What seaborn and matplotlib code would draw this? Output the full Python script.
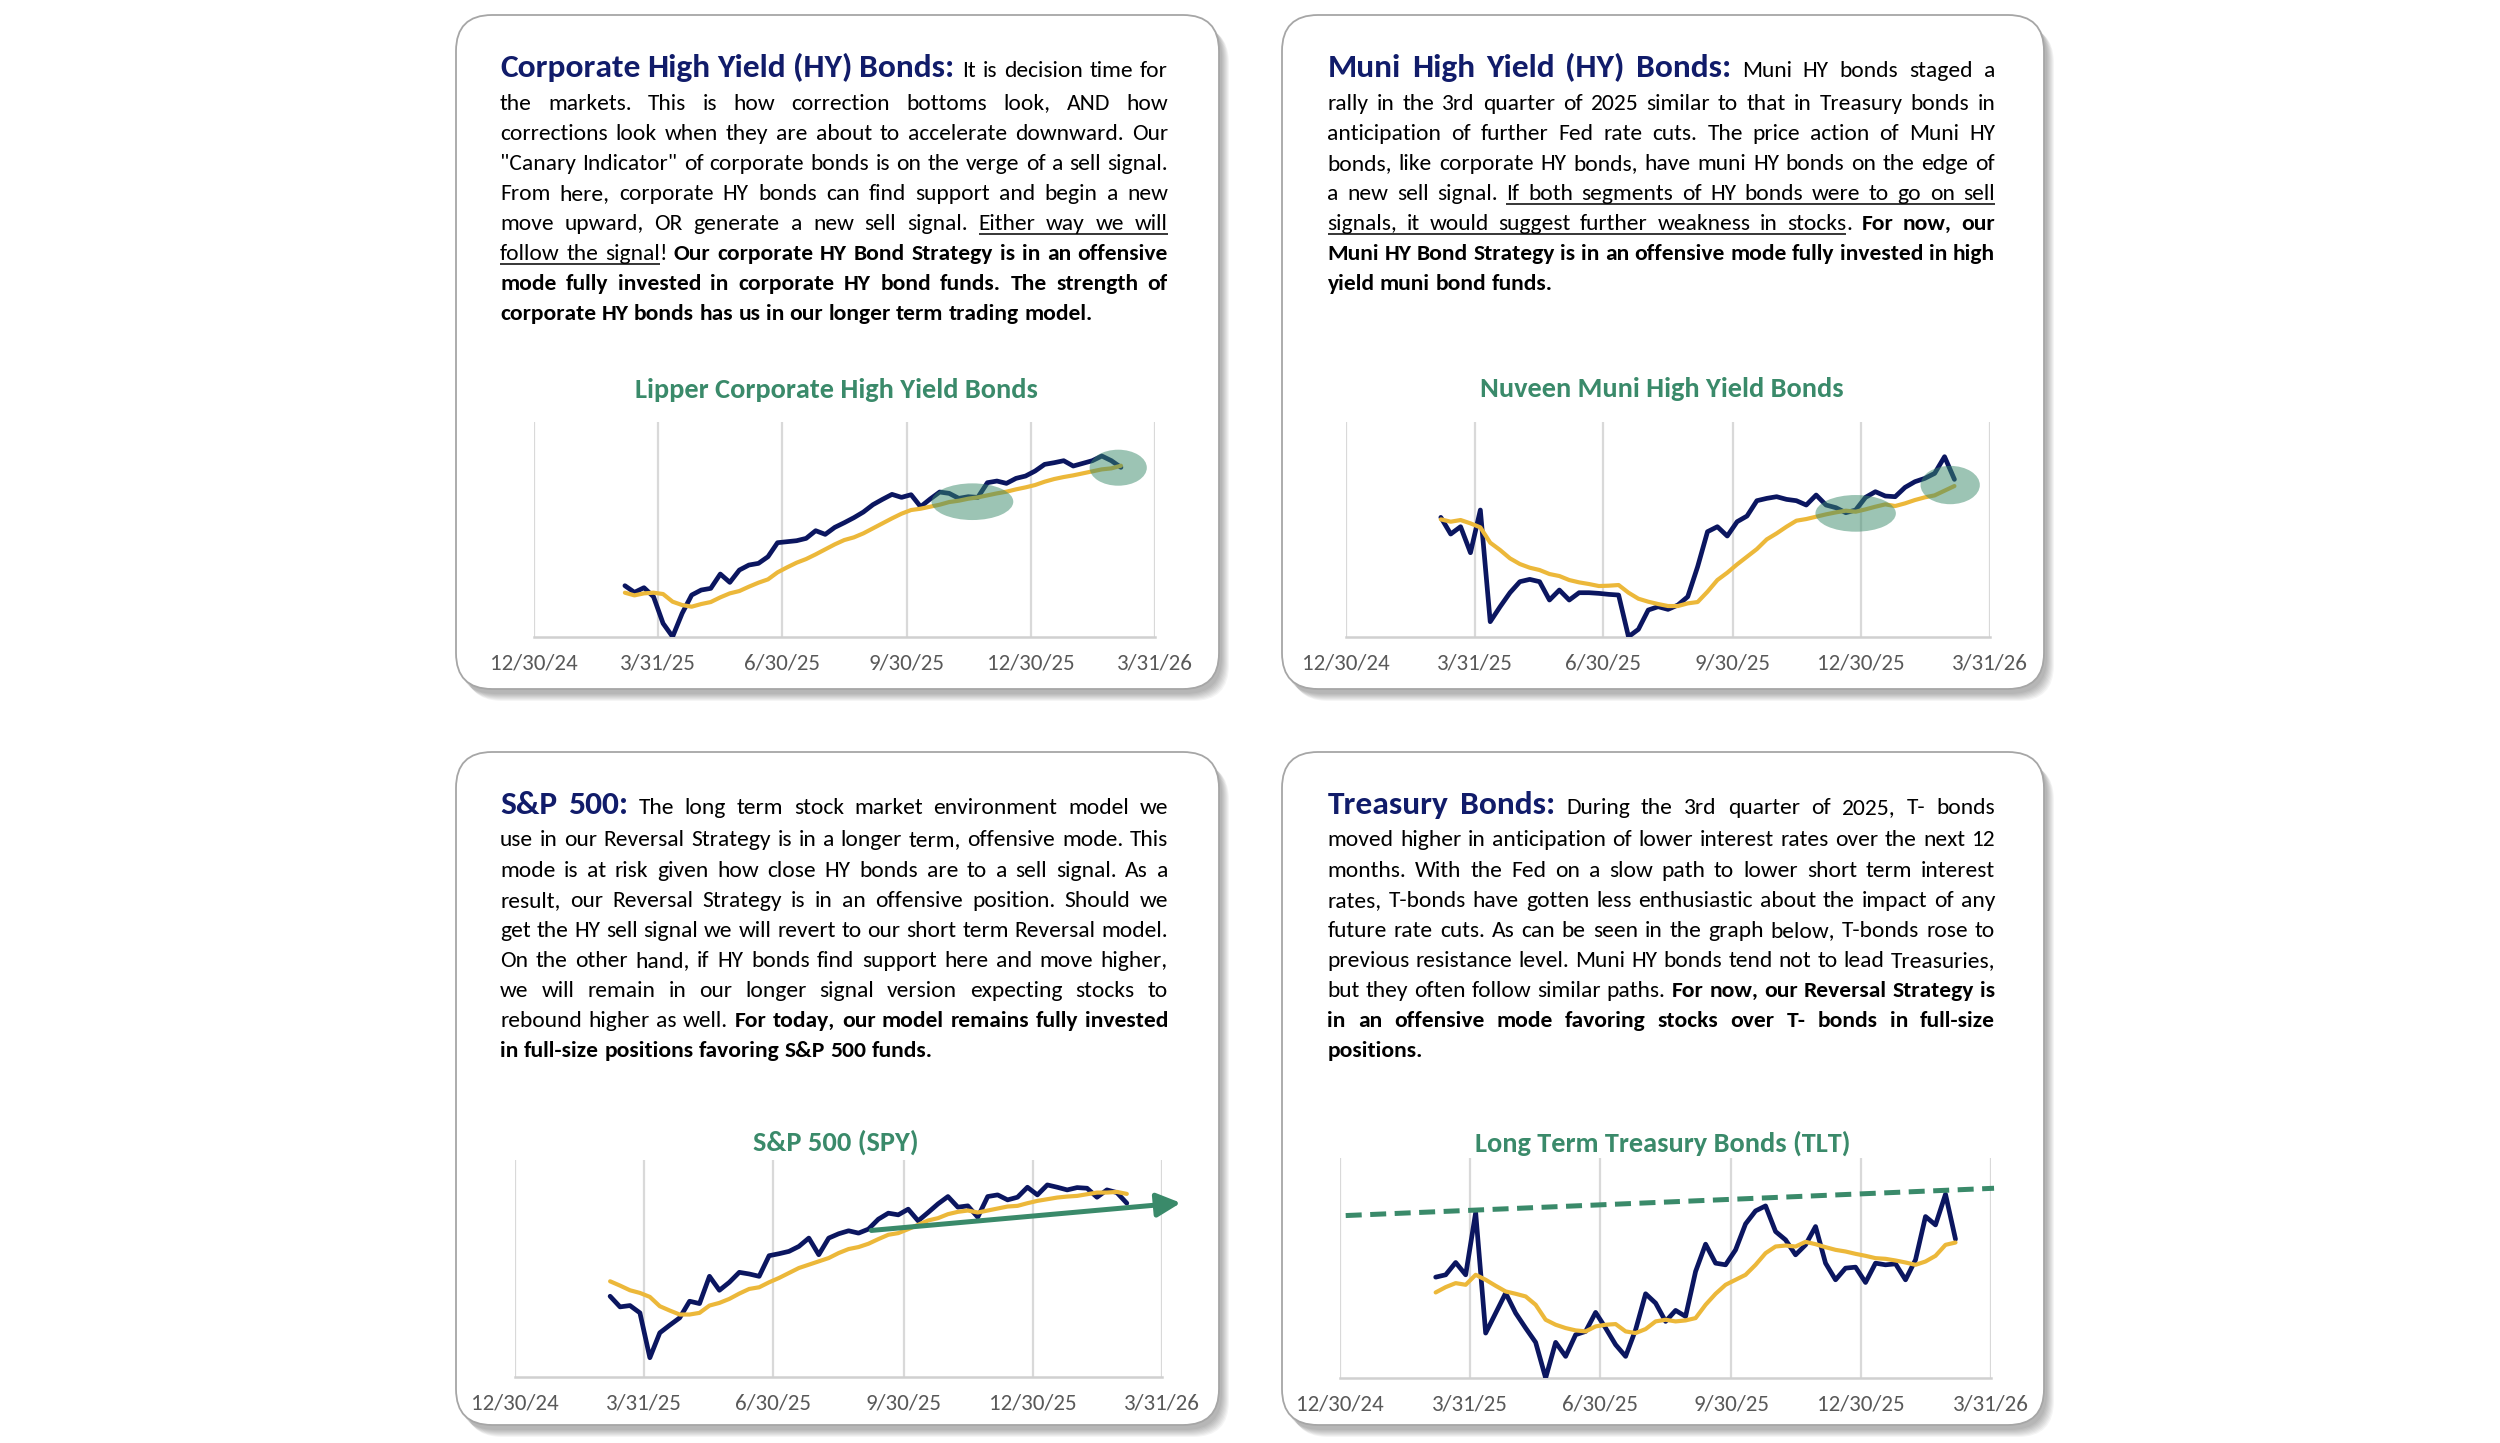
import numpy as np
import pandas as pd
import seaborn as sns
import matplotlib
matplotlib.use("Agg")
import matplotlib.pyplot as plt
import matplotlib.dates as mdates
from matplotlib import font_manager as fm
from matplotlib.patches import FancyBboxPatch, Ellipse

# ---------------- data: weekly closes, relative units (0 = bottom of plot) ----------------
week_dates = pd.date_range("2025-03-07", periods=53, freq="7D")

corp_hy = [153, 133, 147, 120, 40, 0, 70, 125, 140, 145, 188, 163, 200, 215, 220, 240, 282, 285,
           288, 295, 318, 307, 328, 342, 357, 374, 396, 412, 427, 418, 426, 390, 413, 434, 430, 415,
           420, 418, 462, 467, 460, 475, 482, 497, 517, 522, 528, 512, 520, 528, 542, 528, 508]
corp_hy_avg = [132, 124, 130, 132, 128, 105, 95, 90, 98, 104, 118, 130, 137, 150, 162, 172, 193, 208,
               222, 233, 247, 262, 277, 290, 298, 310, 325, 340, 355, 369, 380, 384, 390, 396, 404, 408,
               414, 418, 424, 430, 435, 442, 448, 455, 465, 473, 479, 484, 490, 496, 502, 505, 513]

muni_hy = [358, 308, 330, 252, 380, 45, 90, 132, 165, 172, 165, 110, 140, 110, 132, 132, 130, 127,
           125, 0, 22, 80, 90, 82, 95, 120, 210, 315, 330, 302, 345, 362, 408, 415, 420, 412,
           408, 395, 425, 395, 387, 372, 380, 418, 435, 422, 420, 448, 465, 475, 490, 540, 472]
muni_hy_avg = [352, 345, 350, 340, 328, 282, 260, 235, 218, 207, 200, 188, 182, 170, 163, 158, 152, 153,
               155, 132, 114, 105, 98, 92, 92, 100, 104, 135, 170, 192, 217, 240, 263, 292, 310, 330,
               348, 353, 360, 367, 373, 378, 375, 382, 390, 397, 392, 400, 410, 418, 424, 438, 452]

spy = [243, 211, 215, 193, 58, 133, 156, 178, 228, 221, 303, 261, 285, 315, 310, 303, 365, 371,
       378, 393, 418, 368, 418, 431, 440, 433, 445, 475, 493, 488, 505, 470, 495, 521, 543, 511,
       515, 481, 543, 548, 533, 541, 571, 548, 578, 571, 563, 570, 568, 541, 563, 555, 523]
spy_avg = [288, 275, 261, 253, 241, 213, 200, 188, 188, 193, 215, 223, 235, 251, 265, 270, 285, 298,
           313, 328, 338, 348, 358, 373, 385, 391, 401, 415, 428, 433, 445, 458, 471, 478, 490, 497,
           501, 495, 501, 507, 513, 515, 523, 530, 535, 540, 543, 545, 550, 555, 555, 557, 551]

tlt = [303, 310, 347, 310, 497, 135, 195, 255, 195, 150, 107, 0, 107, 65, 130, 140, 197, 150,
       100, 65, 145, 253, 225, 170, 203, 185, 320, 402, 345, 340, 385, 463, 502, 517, 440, 415,
       370, 400, 455, 345, 295, 330, 333, 287, 345, 340, 343, 295, 355, 485, 460, 552, 417]
tlt_avg = [257, 273, 285, 280, 310, 295, 277, 260, 253, 245, 220, 175, 160, 150, 143, 140, 155, 160,
           162, 140, 135, 147, 170, 175, 170, 173, 180, 220, 253, 280, 295, 310, 340, 375, 395, 398,
           395, 409, 402, 393, 385, 380, 373, 367, 360, 358, 353, 347, 340, 350, 367, 400, 407]

tick_dates = pd.to_datetime(["2024-12-30", "2025-03-31", "2025-06-30",
                             "2025-09-30", "2025-12-30", "2026-03-31"])
tick_labels = ["12/30/24", "3/31/25", "6/30/25", "9/30/25", "12/30/25", "3/31/26"]

chart_titles = ["Lipper Corporate High Yield Bonds", "Nuveen Muni High Yield Bonds",
                "S&P 500 (SPY)", "Long Term Treasury Bonds (TLT)"]

# text: runs of (style, text); h = heading, n = normal, b = bold, u = underlined
corp_text = [
    [("h", "Corporate High Yield (HY) Bonds:"), ("n", " It is decision time for")],
    [("n", "the markets. This is how correction bottoms look, AND how")],
    [("n", "corrections look when they are about to accelerate downward. Our")],
    [("n", '"Canary Indicator" of corporate bonds is on the verge of a sell signal.')],
    [("n", "From here, corporate HY bonds can find support and begin a new")],
    [("n", "move upward, OR generate a new sell signal. "), ("u", "Either way we will")],
    [("u", "follow the signal"), ("n", "! "), ("b", "Our corporate HY Bond Strategy is in an offensive")],
    [("b", "mode fully invested in corporate HY bond funds. The strength of")],
    [("b", "corporate HY bonds has us in our longer term trading model.")],
]
muni_text = [
    [("h", "Muni High Yield (HY) Bonds:"), ("n", " Muni HY bonds staged a")],
    [("n", "rally in the 3rd quarter of 2025 similar to that in Treasury bonds in")],
    [("n", "anticipation of further Fed rate cuts. The price action of Muni HY")],
    [("n", "bonds, like corporate HY bonds, have muni HY bonds on the edge of")],
    [("n", "a new sell signal. "), ("u", "If both segments of HY bonds were to go on sell")],
    [("u", "signals, it would suggest further weakness in stocks"), ("n", ". "), ("b", "For now, our")],
    [("b", "Muni HY Bond Strategy is in an offensive mode fully invested in high")],
    [("b", "yield muni bond funds.")],
]
spx_text = [
    [("h", "S&P 500:"), ("n", " The long term stock market environment model we")],
    [("n", "use in our Reversal Strategy is in a longer term, offensive mode. This")],
    [("n", "mode is at risk given how close HY bonds are to a sell signal. As a")],
    [("n", "result, our Reversal Strategy is in an offensive position. Should we")],
    [("n", "get the HY sell signal we will revert to our short term Reversal model.")],
    [("n", "On the other hand, if HY bonds find support here and move higher,")],
    [("n", "we will remain in our longer signal version expecting stocks to")],
    [("n", "rebound higher as well. "), ("b", "For today, our model remains fully invested")],
    [("b", "in full-size positions favoring S&P 500 funds.")],
]
tsy_text = [
    [("h", "Treasury Bonds:"), ("n", " During the 3rd quarter of 2025, T- bonds")],
    [("n", "moved higher in anticipation of lower interest rates over the next 12")],
    [("n", "months. With the Fed on a slow path to lower short term interest")],
    [("n", "rates, T-bonds have gotten less enthusiastic about the impact of any")],
    [("n", "future rate cuts. As can be seen in the graph below, T-bonds rose to")],
    [("n", "previous resistance level. Muni HY bonds tend not to lead Treasuries,")],
    [("n", "but they often follow similar paths. "), ("b", "For now, our Reversal Strategy is")],
    [("b", "in an offensive mode favoring stocks over T- bonds in full-size")],
    [("b", "positions.")],
]

NAVY = "#0B1660"
GOLD = "#ECB83A"
GREEN = "#3A8A6A"
HEAD = "#111C6A"
GRID = "#D9D9D9"

sns.set_style("white")
installed = {f.name for f in fm.fontManager.ttflist}
FAM = next(f for f in ["Carlito", "Liberation Sans Narrow", "Lato", "DejaVu Sans"] if f in installed)
plt.rcParams["font.family"] = [FAM, "DejaVu Sans"]

fig = plt.figure(figsize=(25, 14.43), dpi=100)
bg = fig.add_axes([0, 0, 1, 1])
bg.set_xlim(0, 2500)
bg.set_ylim(1443, 0)
bg.axis("off")
renderer = fig.canvas.get_renderer()

_cache = {}
def width(s, size, weight="normal"):
    key = (s, round(size, 3), weight)
    if key not in _cache:
        t = bg.text(0, 0, s, fontsize=size, fontweight=weight)
        _cache[key] = t.get_window_extent(renderer).width
        t.remove()
    return _cache[key]

# font sizes fitted to the widths seen in the picture
head_size = 24 * 457 / width("Corporate High Yield (HY) Bonds:", 24, "bold")
title_size = 20 * 403 / width("Lipper Corporate High Yield Bonds", 20, "bold")
tick_size = 16 * 88 / width("12/30/24", 16)
sizes = {"body": 18.0}

def style_of(st):
    if st == "h":
        return head_size, "bold", HEAD
    if st == "b":
        return sizes["body"], "bold", "black"
    return sizes["body"], "normal", "black"

def split_words(runs):
    words, cur = [], []
    for st, text in runs:
        for k, part in enumerate(text.split(" ")):
            if k > 0 and cur:
                words.append(cur)
                cur = []
            if part:
                cur.append((part, st))
    if cur:
        words.append(cur)
    return words

def space_w():
    s = sizes["body"]
    return width("a a", s) - width("aa", s)

def natural(runs):
    words = split_words(runs)
    tot = sum(width(p, *style_of(st)[:2]) for w in words for p, st in w)
    return tot + (len(words) - 1) * space_w()

panels = [
    dict(text=corp_text, x0=500, x1=1168, dy=0),
    dict(text=muni_text, x0=1327.5, x1=1995, dy=0),
    dict(text=spx_text, x0=500, x1=1168, dy=737),
    dict(text=tsy_text, x0=1327.5, x1=1995, dy=737),
]

# shrink body text until every justified line fits
for _ in range(4):
    worst = max(natural(r) / (p["x1"] - p["x0"]) for p in panels for r in p["text"][:-1])
    sizes["body"] = min(18.0, sizes["body"] / worst * 0.998)

def draw_line(runs, x0, x1, y, justify):
    words = split_words(runs)
    widths = [[width(p, *style_of(st)[:2]) for p, st in w] for w in words]
    total = sum(sum(ws) for ws in widths)
    gap = (x1 - x0 - total) / (len(words) - 1) if justify and len(words) > 1 else space_w()
    x = x0
    prev_u = None
    for w, ws in zip(words, widths):
        if prev_u is not None and w[0][1] == "u":
            bg.plot([prev_u, x], [y + 4, y + 4], color="black", lw=1.1, solid_capstyle="butt")
        for (p, st), pw in zip(w, ws):
            size, weight, color = style_of(st)
            bg.text(x, y, p, fontsize=size, fontweight=weight, color=color, ha="left", va="baseline")
            if st == "u":
                bg.plot([x, x + pw], [y + 4, y + 4], color="black", lw=1.1, solid_capstyle="butt")
            x += pw
        prev_u = x if w[-1][1] == "u" else None
        x += gap

# rounded boxes with soft shadow
boxes = [(456, 15, 763, 674), (1282, 15, 762, 674), (456, 752, 763, 673), (1282, 752, 762, 673)]
for bx, by, bw, bh in boxes:
    for k in range(8):
        bg.add_patch(FancyBboxPatch((bx + 3 + k, by + 5 + k), bw, bh,
                                    boxstyle="round,pad=0,rounding_size=36",
                                    facecolor="#000000", edgecolor="none", alpha=0.04, zorder=1))
    bg.add_patch(FancyBboxPatch((bx, by), bw, bh, boxstyle="round,pad=0,rounding_size=36",
                                facecolor="white", edgecolor="#A6A6A6", lw=1.3, zorder=2))

for p in panels:
    n = len(p["text"])
    for i, runs in enumerate(p["text"]):
        y = p["dy"] + (77 if i == 0 else 109.5 + 30.1 * (i - 1))
        draw_line(runs, p["x0"], p["x1"], y, i < n - 1)

# chart titles
title_pos = [(836, 390), (1662, 389), (836, 1142), (1663, 1143)]
for (tx, ty), t in zip(title_pos, chart_titles):
    bg.text(tx, ty, t, fontsize=title_size, fontweight="bold", color=GREEN, ha="center", va="center")

# ---------------- charts ----------------
def make_axes(left, top, right, bottom):
    return fig.add_axes([left / 2500, 1 - bottom / 1443, (right - left) / 2500, (bottom - top) / 1443])

chart_specs = [
    dict(rect=(533.6, 421.7, 1155, 636.7), price=corp_hy, avg=corp_hy_avg, ytop=645),
    dict(rect=(1346.3, 421.7, 1989.7, 636.7), price=muni_hy, avg=muni_hy_avg, ytop=645),
    dict(rect=(515, 1160, 1162.3, 1377), price=spy, avg=spy_avg, ytop=653),
    dict(rect=(1340, 1158.3, 1991.2, 1378), price=tlt, avg=tlt_avg, ytop=660),
]

axes = []
for spec in chart_specs:
    ax = make_axes(*spec["rect"])
    df = pd.DataFrame({"date": week_dates, "price": spec["price"], "avg": spec["avg"]})
    sns.lineplot(data=df, x="date", y="price", color=NAVY, lw=3.4, ax=ax, zorder=3)
    sns.lineplot(data=df, x="date", y="avg", color=GOLD, lw=3.0, ax=ax, zorder=4)
    ax.set_xlim(tick_dates[0], tick_dates[-1])
    ax.set_ylim(0, spec["ytop"])
    ax.set_xticks(tick_dates)
    ax.set_xticklabels(tick_labels)
    ax.set_yticks([])
    ax.set_xlabel("")
    ax.set_ylabel("")
    ax.grid(axis="x", color=GRID, lw=1.6)
    ax.set_axisbelow(True)
    for s in ["top", "right", "left"]:
        ax.spines[s].set_visible(False)
    ax.spines["bottom"].set_color("#D0D0D0")
    ax.spines["bottom"].set_linewidth(1.8)
    ax.tick_params(axis="x", length=0, pad=12, labelsize=tick_size, labelcolor="#595959")
    ax.patch.set_alpha(0)
    axes.append(ax)

d = lambda s: mdates.date2num(pd.Timestamp(s))
ell = dict(facecolor=GREEN, edgecolor="none", alpha=0.5, zorder=6)
axes[0].add_patch(Ellipse((d("2025-11-17"), 405), 60, 110, **ell))
axes[0].add_patch(Ellipse((d("2026-03-04"), 507), 42, 108, **ell))
axes[1].add_patch(Ellipse((d("2025-12-26"), 370), 57, 110, **ell))
axes[1].add_patch(Ellipse((d("2026-03-03"), 455), 42, 115, **ell))

axes[2].annotate("", xy=(d("2026-04-13"), 524), xytext=(d("2025-09-07"), 441),
                 arrowprops=dict(arrowstyle="-|>", color=GREEN, lw=3.6, shrinkA=0, shrinkB=0,
                                 mutation_scale=36),
                 annotation_clip=False, zorder=6)

axes[3].plot([d("2025-01-03"), d("2026-04-02")], [488, 570], color=GREEN, lw=3.6,
             dashes=(3.2, 1.7), dash_capstyle="butt", clip_on=False, zorder=5)

fig.savefig("out.png", dpi=100)
